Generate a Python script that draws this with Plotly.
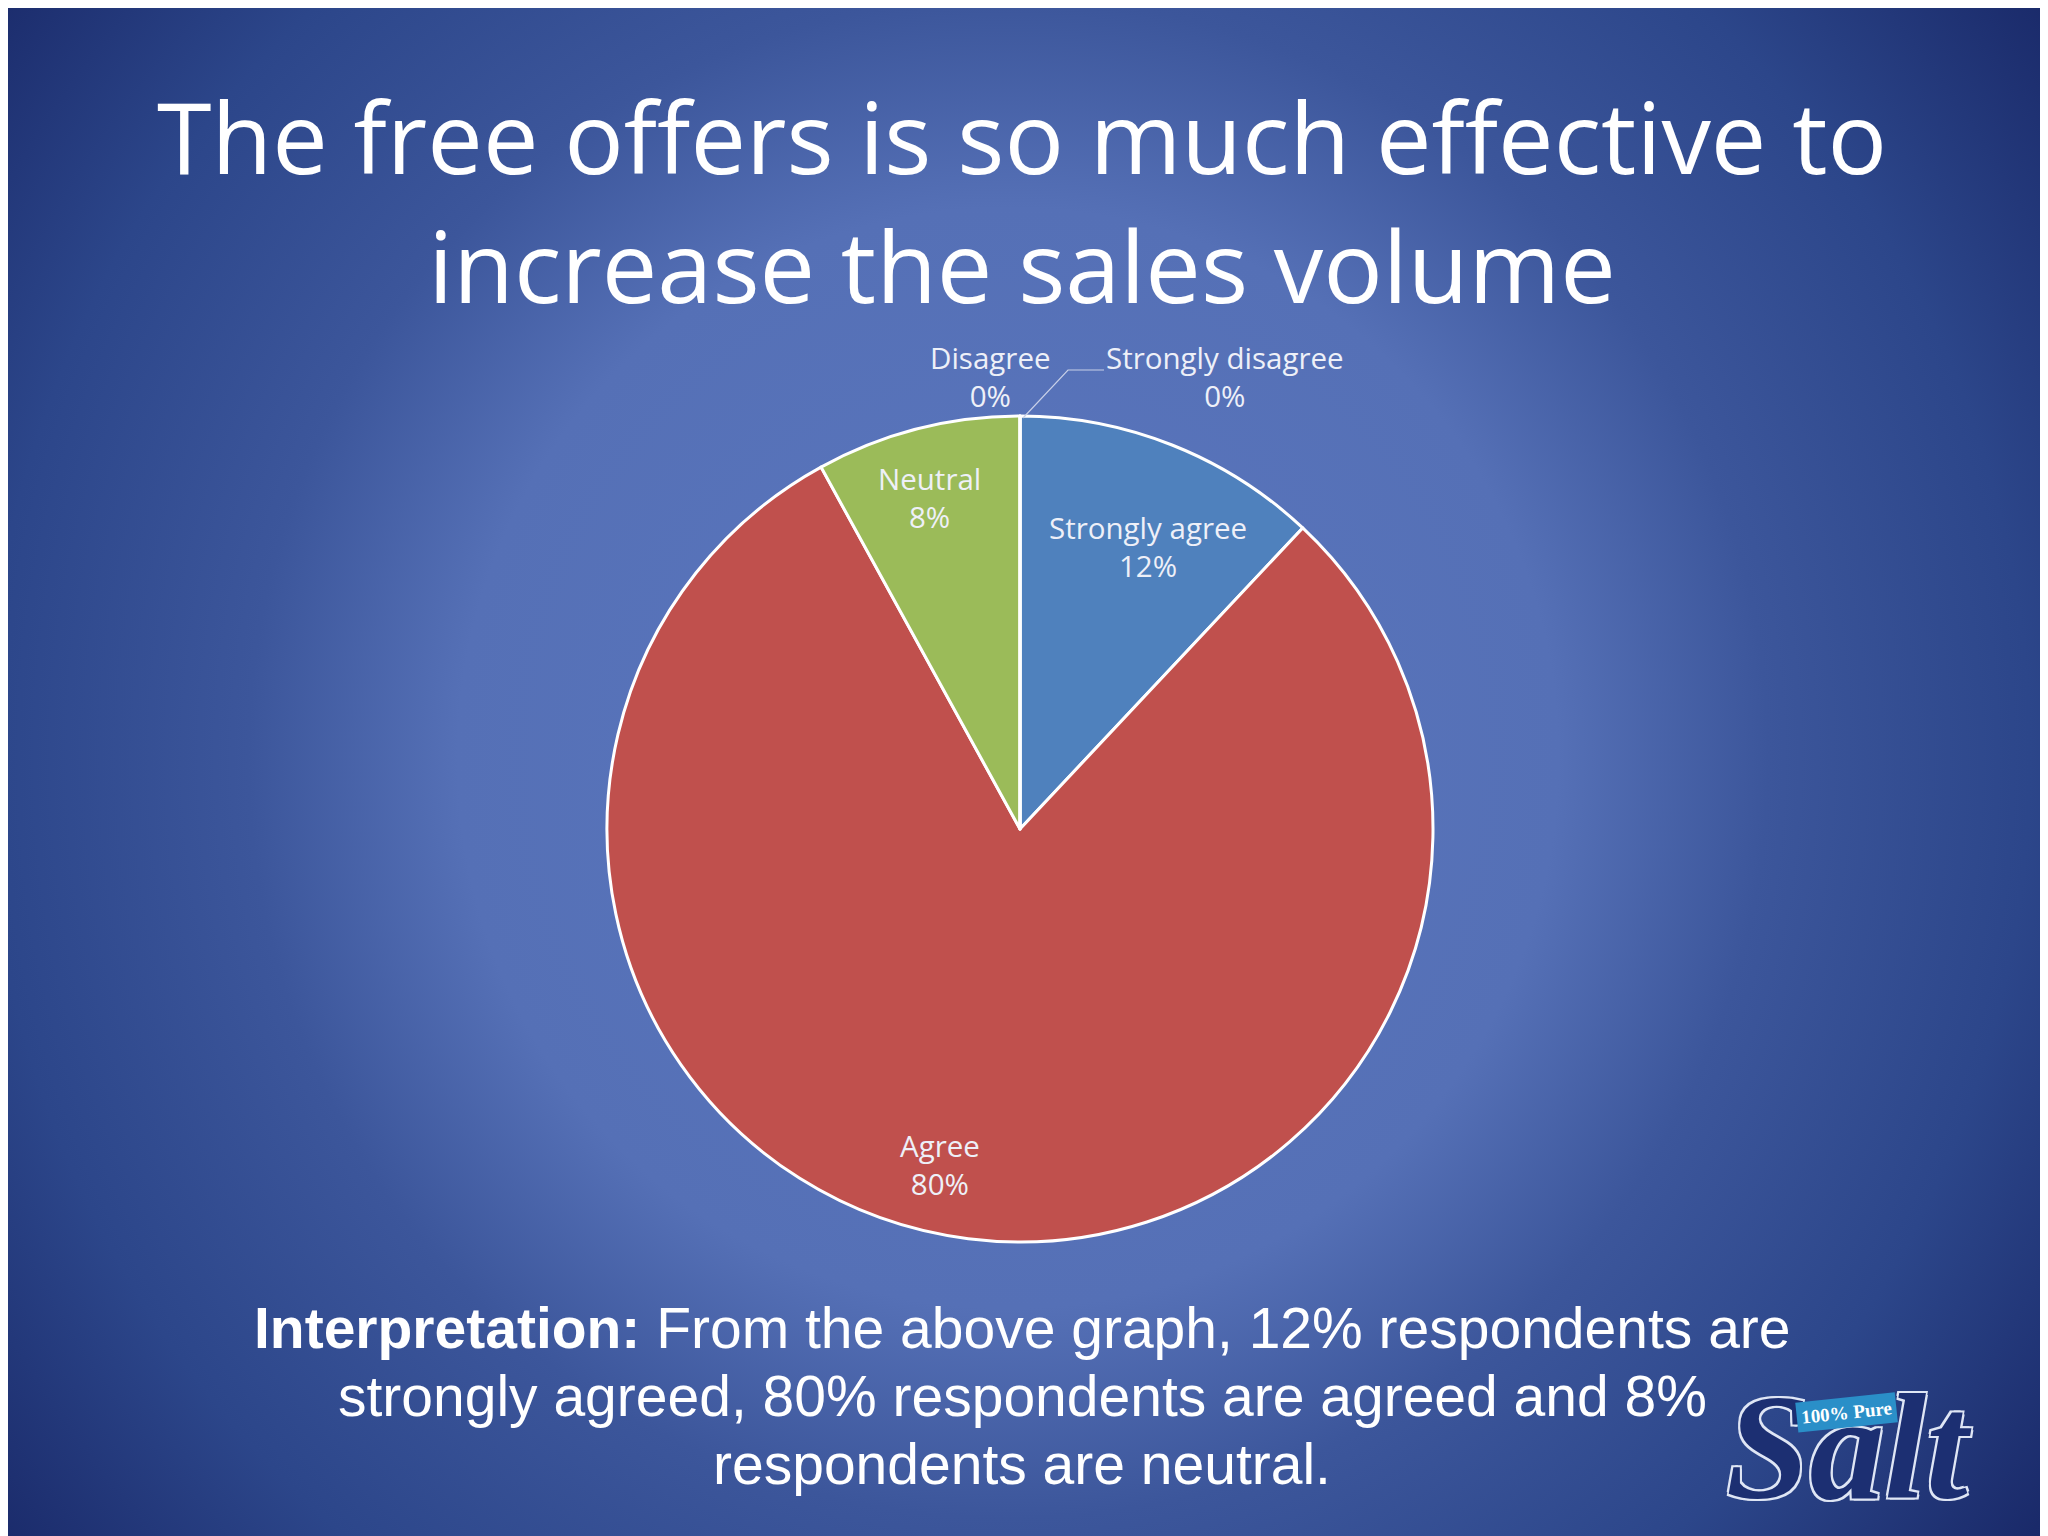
import base64
import plotly.graph_objects as go

# ---- data ----
categories = ["Strongly agree", "Agree", "Neutral", "Disagree", "Strongly disagree"]
values = [12, 80, 8, 0, 0]
colors = ["#4F81BD", "#C0504D", "#9BBB59", "#8064A2", "#4BACC6"]
interpretation_lines = [
    "<b>Interpretation:</b> From the above graph, 12% respondents are",
    "strongly agreed, 80% respondents are agreed and 8%",
    "respondents are neutral.",
]

W, H = 2048, 1536
OFF = 8  # page offset of the figure in the browser
CX, CY, R = 1020, 829, 413  # pie centre / radius in screen pixels

def px(x):
    return (x - OFF) / W

def py(y):
    return 1 - (y - OFF) / H

# background radial gradient
svg = f"""<svg xmlns='http://www.w3.org/2000/svg' width='{W}' height='{H}'>
<defs><radialGradient id='g' gradientUnits='userSpaceOnUse' cx='1000' cy='750' r='1310'>
<stop offset='0' stop-color='#5b77bf'/>
<stop offset='0.42' stop-color='#5570b6'/>
<stop offset='0.58' stop-color='#3c569b'/>
<stop offset='0.78' stop-color='#2c468a'/>
<stop offset='0.98' stop-color='#1a2a6a'/>
<stop offset='1' stop-color='#182868'/>
</radialGradient></defs>
<rect width='{W}' height='{H}' fill='url(#g)'/></svg>"""
bg = "data:image/svg+xml;base64," + base64.b64encode(svg.encode()).decode()

fig = go.Figure()
fig.add_trace(go.Pie(
    labels=categories, values=values, sort=False, direction="clockwise", rotation=0,
    marker=dict(colors=colors, line=dict(color="white", width=3)),
    textinfo="none", hoverinfo="label+percent", showlegend=False,
    domain=dict(x=[px(CX - R), px(CX + R)], y=[py(CY + R), py(CY - R)]),
))

total = sum(values)
label_pos = {
    "Strongly agree": (1148, 547),
    "Agree": (940, 1164),
    "Neutral": (929, 497),
    "Disagree": (990, 376),
    "Strongly disagree": (1225, 376),
}
annotations = []
for cat, v in zip(categories, values):
    x, y = label_pos[cat]
    annotations.append(dict(
        x=px(x), y=py(y), xref="paper", yref="paper", showarrow=False,
        xanchor="center", yanchor="middle",
        text=f"{cat}<br>{round(100 * v / total)}%", align="center",
        font=dict(family="Open Sans", size=29.5, color="#eef0f8"),
    ))

# title
annotations.append(dict(
    x=px(1022), y=py(200), xref="paper", yref="paper", showarrow=False,
    xanchor="center", yanchor="middle",
    text="The free offers is so much effective to<br>increase the sales volume",
    font=dict(family="Open Sans", size=99, color="white"), align="center",
))
# interpretation
for i, line in enumerate(interpretation_lines):
    annotations.append(dict(
        x=px(1022), y=py(1328 + 68 * i), xref="paper", yref="paper", showarrow=False,
        xanchor="center", yanchor="middle", text=line,
        font=dict(family="Liberation Sans", size=57, color="white"), align="center",
    ))
# logo
annotations.append(dict(
    x=px(1849), y=py(1447), xref="paper", yref="paper", showarrow=False,
    xanchor="center", yanchor="middle",
    text="<i><b>Salt</b></i>",
    font=dict(family="Liberation Serif", size=150, color="#1c2f72",
              shadow="-2px -2px 0 #dfe6f5, 2px -2px 0 #dfe6f5, -2px 2px 0 #dfe6f5, 2px 2px 0 #dfe6f5"),
))
annotations.append(dict(
    x=px(1846), y=py(1412), xref="paper", yref="paper", showarrow=False,
    xanchor="center", yanchor="middle",
    text="<b>100% Pure</b>", textangle=-6, bgcolor="#2a8fc8",
    font=dict(family="Liberation Serif", size=19, color="white"),
    borderpad=4,
))

shapes = [dict(
    type="path", xref="paper", yref="paper",
    path=f"M {px(1023)} {py(418)} L {px(1068)} {py(370)} L {px(1104)} {py(370)}",
    line=dict(color="#c8d0e8", width=1.2),
)]

fig.update_layout(
    width=W, height=H, margin=dict(l=0, r=0, t=0, b=0),
    paper_bgcolor="#3b5499", plot_bgcolor="rgba(0,0,0,0)",
    images=[dict(source=bg, xref="paper", yref="paper", x=0, y=1, sizex=1, sizey=1,
                 sizing="stretch", layer="below", xanchor="left", yanchor="top")],
    annotations=annotations, shapes=shapes,
)
fig.write_html("out.html")
